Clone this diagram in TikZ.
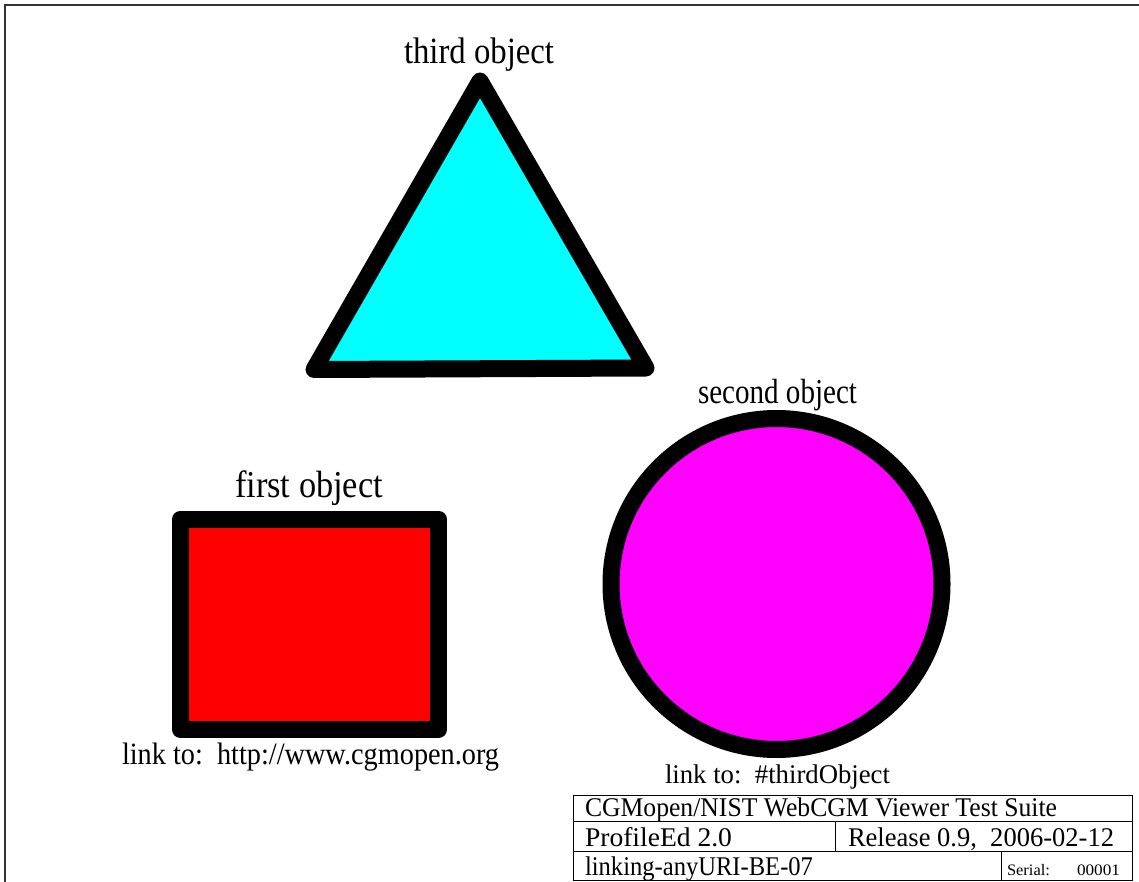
\documentclass[tikz,border=0pt]{standalone}
\usepackage{fontspec}
\setmainfont{Liberation Serif}
\usepackage{graphicx}
\definecolor{cgcyan}{RGB}{0,255,255}
\definecolor{cgmagenta}{RGB}{255,0,255}
\definecolor{cgred}{RGB}{255,0,0}
\newcommand\fitw[3]{\fontsize{#2}{#2}\selectfont\resizebox{#1pt}{\height}{#3}}
\begin{document}
\begin{tikzpicture}[x=1pt,y=-1pt,
  fatshape/.style={line width=17pt,line join=round,draw=black},
  lbl/.style={inner sep=0pt,outer sep=0pt,anchor=base west},
  cell/.style={line width=1pt,draw=black}]
\useasboundingbox (0,0) rectangle (1139,882);
% frame
\draw[line width=2pt,draw=black!80] (5,882) -- (5,5) -- (1139,5);
% triangle
\filldraw[fatshape,fill=cgcyan] (480,81) -- (314,369.5) -- (646,368) -- cycle;
\node[lbl] (tlab) at (404,64) {\fitw{150}{37}{third object}};
% rectangle
\filldraw[fatshape,fill=cgred] (180.5,519) rectangle (438.5,729.5);
\node[lbl] (rlab) at (235,497) {\fitw{148}{38}{first object}};
\node[lbl] (rlink) at (122,764) {\fitw{377}{31}{link to:\ \ http://www.cgmopen.org}};
% circle
\filldraw[fatshape,fill=cgmagenta] (776.5,584) circle[radius=165.5];
\node[lbl] (clab) at (698,403) {\fitw{159}{35}{second object}};
\node[lbl] (clink) at (665,783) {\fitw{225}{27}{link to:\ \ \#thirdObject}};
% title block
\draw[cell] (573,795) rectangle (1132,880);
\draw[cell] (573,821) -- (1132,821);
\draw[cell] (573,851) -- (1132,851);
\draw[cell] (835,821) -- (835,851);
\draw[cell] (1001,851) -- (1001,880);
\node[lbl] (t1) at (585,816) {\fitw{472}{27}{CGMopen/NIST WebCGM Viewer Test Suite}};
\node[lbl] (t2) at (585,846) {\fitw{147}{27}{ProfileEd 2.0}};
\node[lbl] (t3) at (848,846) {\fitw{266}{27}{Release 0.9,\ \ 2006-02-12}};
\node[lbl] (t4) at (585,875) {\fitw{228}{27}{linking-anyURI-BE-07}};
\node[lbl] (t5) at (1007,875) {\fitw{43}{16}{Serial:}};
\node[lbl] (t6) at (1077,875) {\fitw{43}{16}{00001}};
\end{tikzpicture}
\end{document}
